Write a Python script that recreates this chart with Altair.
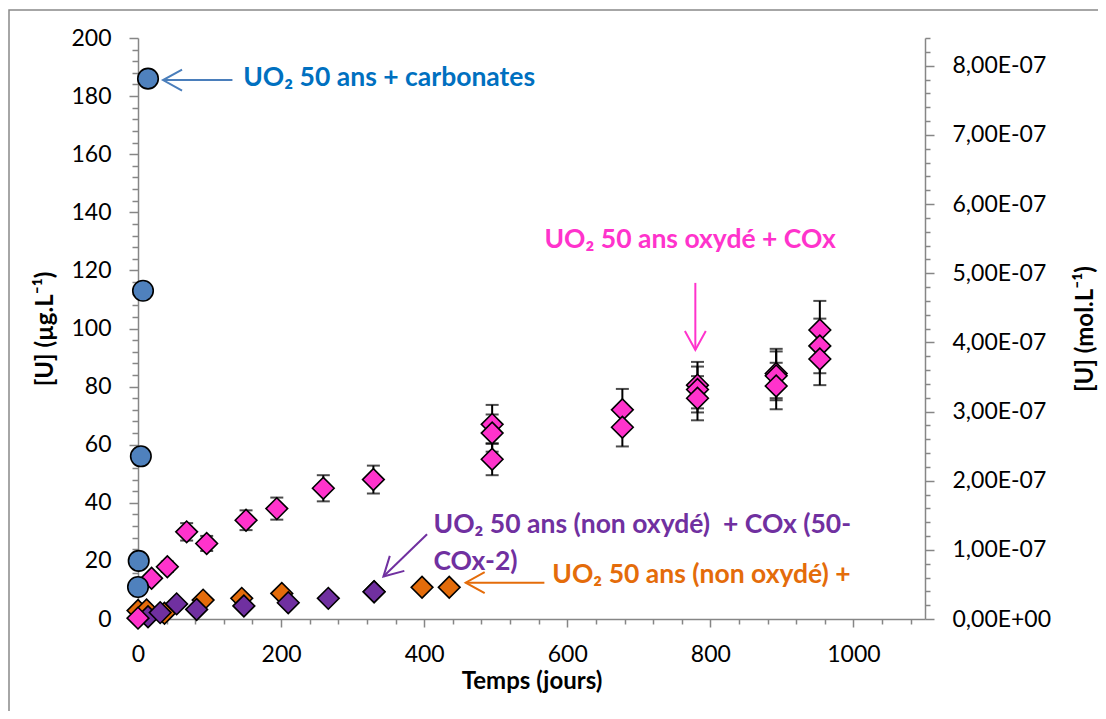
import altair as alt
import pandas as pd

# ---------------- data ----------------
# UO2 50 ans + carbonates (blue circles)
blue_t = [0, 1, 4, 7, 14]
blue_u = [11, 20, 56, 113, 186]

# UO2 50 ans oxydé + COx (pink diamonds, with error bars)
pink_t = [0, 19, 41, 68, 96, 151, 194, 259, 329, 495, 495, 495, 677, 677,
          782, 782, 782, 892, 892, 892, 953, 953, 953]
pink_u = [0.3, 14, 18, 30, 26, 34, 38, 45, 48, 67, 64, 55, 72, 66,
          80.5, 79, 76, 84.5, 83.7, 80.2, 99.5, 94, 89.5]
pink_err = [0.03, 1.4, 1.8, 3.0, 2.6, 3.4, 3.8, 4.5, 4.8, 6.7, 6.4, 5.5, 7.2, 6.6,
            8.0, 7.9, 7.6, 8.5, 8.4, 8.0, 10.0, 9.4, 9.0]

# UO2 50 ans (non oxydé) + ... (orange diamonds)
orange_t = [0, 12, 37, 91, 145, 201, 330, 397, 435]
orange_u = [2.9, 3.1, 2.0, 6.5, 7.1, 8.8, 9.4, 10.9, 10.9]

# UO2 50 ans (non oxydé) + COx (50-COx-2) (purple diamonds)
purple_t = [14, 31, 54, 82, 148, 210, 266, 330]
purple_u = [0.8, 2.2, 5.2, 3.3, 4.5, 5.6, 7.1, 9.4]

# annotations
ann_text = ["UO₂ 50 ans + carbonates", "UO₂ 50 ans oxydé + COx",
            "UO₂ 50 ans (non oxydé)\u00a0 + COx (50-", "COx-2)", "UO₂ 50 ans (non oxydé) +"]
ann_t = [147, 568, 413, 413, 579]
ann_u = [183.6, 127.6, 29.5, 16.9, 12.3]
ann_color = ["#0070C0", "#FF33CC", "#7030A0", "#7030A0", "#E46C0A"]

arrow_t_from = [132, 779, 404, 568]
arrow_u_from = [185.5, 115.7, 29.2, 12.5]
arrow_t_to = [35, 779, 343, 458]
arrow_u_to = [185.5, 92.6, 14.6, 12.5]
arrow_angle = [180, 90, 136, 180]
arrow_color = ["#4A7EBB", "#FF33CC", "#7030A0", "#E46C0A"]

# axis ticks / labels
x_tick_values = list(range(0, 1081, 40))
x_label_values = [0, 200, 400, 600, 800, 1000]
y_tick_values = list(range(0, 201, 4))
y_label_values = [0, 20, 40, 60, 80, 100, 120, 140, 160, 180, 200]
y2_tick_values = [round(i * 2e-8, 12) for i in range(43)]
y2_labels = ["0,00E+00", "1,00E-07", "2,00E-07", "3,00E-07", "4,00E-07",
             "5,00E-07", "6,00E-07", "7,00E-07", "8,00E-07"]
y2_max = 8.402e-7

# ---------------- chart ----------------
W, H = 787, 581
FONT = "Lato"
GRAY = "#868686"

xscale = alt.Scale(domain=[0, 1100], nice=False, zero=False)
yscale = alt.Scale(domain=[0, 200], nice=False)

x_lbl = "[" + ",".join(str(v) for v in x_label_values) + "]"
y_lbl = "[" + ",".join(str(v) for v in y_label_values) + "]"

x_axis = alt.Axis(
    values=x_tick_values,
    labelExpr=f"indexof({x_lbl}, datum.value) >= 0 ? format(datum.value, 'd') : ''",
    tickSize={"condition": {"test": f"indexof({x_lbl}, datum.value) >= 0", "value": 8}, "value": 5},
    title="Temps (jours)", grid=False, labelOverlap=False, labelPadding=16,
    titleY=62, titleBaseline="middle", labelFlush=False)
y_axis = alt.Axis(
    values=y_tick_values,
    labelExpr=f"indexof({y_lbl}, datum.value) >= 0 ? format(datum.value, 'd') : ''",
    tickSize={"condition": {"test": f"indexof({y_lbl}, datum.value) >= 0", "value": 9}, "value": 6},
    title="[U] (µg.L⁻¹)", grid=False, labelOverlap=False, labelPadding=18,
    titleX=-93, titleY=H / 2, titleBaseline="middle", titleAngle=270, labelFlush=False)

X = alt.X("t:Q", scale=xscale, axis=x_axis)
Y = alt.Y("u:Q", scale=yscale, axis=y_axis)

blue_df = pd.DataFrame({"t": blue_t, "u": blue_u})
pink_df = pd.DataFrame({"t": pink_t, "u": pink_u, "err": pink_err})
orange_df = pd.DataFrame({"t": orange_t, "u": orange_u})
purple_df = pd.DataFrame({"t": purple_t, "u": purple_u})
ann_df = pd.DataFrame({"t": ann_t, "u": ann_u, "text": ann_text, "c": ann_color})
arr_df = pd.DataFrame({"t": arrow_t_from, "u": arrow_u_from, "t2": arrow_t_to,
                       "u2": arrow_u_to, "ang": arrow_angle, "c": arrow_color})

frame = alt.Chart(pd.DataFrame({"a": [0]})).mark_rect(
    fill=None, stroke="#898989", strokeWidth=1.5).encode(
    x=alt.value(-129), x2=alt.value(1300), y=alt.value(-28), y2=alt.value(900))

DSIZE = 470
orange = alt.Chart(orange_df).mark_point(
    shape="diamond", filled=True, fill="#E46C0A", stroke="black", strokeWidth=1.6,
    size=DSIZE, opacity=1).encode(x=X, y=Y)
purple = alt.Chart(purple_df).mark_point(
    shape="diamond", filled=True, fill="#7030A0", stroke="black", strokeWidth=1.6,
    size=DSIZE, opacity=1).encode(x=X, y=Y)

pink_base = alt.Chart(pink_df).transform_calculate(
    lo="datum.u - datum.err", hi="datum.u + datum.err")
pink_rule = pink_base.mark_rule(color="black", strokeWidth=2).encode(
    x=X, y=alt.Y("lo:Q", scale=yscale, axis=y_axis), y2="hi:Q")
pink_cap_lo = pink_base.mark_tick(color="black", orient="horizontal", size=13,
                                  thickness=2).encode(
    x=X, y=alt.Y("lo:Q", scale=yscale, axis=y_axis))
pink_cap_hi = pink_base.mark_tick(color="black", orient="horizontal", size=13,
                                  thickness=2).encode(
    x=X, y=alt.Y("hi:Q", scale=yscale, axis=y_axis))
pink = alt.Chart(pink_df).mark_point(
    shape="diamond", filled=True, fill="#FF33CC", stroke="black", strokeWidth=1.6,
    size=DSIZE, opacity=1).encode(x=X, y=Y)

blue = alt.Chart(blue_df).mark_point(
    shape="circle", filled=True, fill="#4F81BD", stroke="black", strokeWidth=1.6,
    size=420, opacity=1).encode(x=X, y=Y)

arrow_shaft = alt.Chart(arr_df).mark_rule(strokeWidth=2).encode(
    x=X, y=Y, x2="t2:Q", y2="u2:Q", color=alt.Color("c:N", scale=None))
arrow_head = alt.Chart(arr_df).mark_point(
    shape="M -1 -0.55 L 0 0 L -1 0.55", filled=False, strokeWidth=2, size=1444,
    opacity=1).encode(
    x=alt.X("t2:Q", scale=xscale, axis=x_axis), y=alt.Y("u2:Q", scale=yscale, axis=y_axis),
    angle=alt.Angle("ang:Q", scale=None), color=alt.Color("c:N", scale=None))

texts = alt.Chart(ann_df).mark_text(
    font=FONT, fontWeight="bold", fontSize=26.5, align="left", baseline="alphabetic").encode(
    x=X, y=Y, text="text:N", color=alt.Color("c:N", scale=None))

main = alt.layer(frame, orange, purple, pink_rule, pink_cap_lo, pink_cap_hi, pink,
                 blue, arrow_shaft, arrow_head, texts)

y2_expr = ("abs(datum.value*1e7 - round(datum.value*1e7)) < 1e-4 ? "
           + "[" + ",".join("'" + s + "'" for s in y2_labels) + "][round(datum.value*1e7)] : ''")
y2_test = "abs(datum.value*1e7 - round(datum.value*1e7)) < 1e-4"
right = alt.Chart(pd.DataFrame({"mol": [0, y2_max]})).mark_point(opacity=0).encode(
    y=alt.Y("mol:Q", scale=alt.Scale(domain=[0, y2_max], nice=False),
            axis=alt.Axis(orient="right", values=y2_tick_values, labelExpr=y2_expr,
                          tickSize={"condition": {"test": y2_test, "value": 9}, "value": 5},
                          title="[U] (mol.L⁻¹)", grid=False, labelOverlap=False,
                          labelPadding=18, titleX=160, titleY=H / 2, titleAngle=270,
                          titleBaseline="middle", labelFlush=False)))

chart = alt.layer(main, right).resolve_scale(y="independent").properties(
    width=W, height=H,
    autosize=alt.AutoSizeParams(type="none"),
    padding={"left": 130, "top": 30, "right": 173, "bottom": 92},
).configure_view(stroke=None).configure_axis(
    labelFont=FONT, labelFontSize=23, labelColor="black",
    titleFont=FONT, titleFontSize=24, titleFontWeight="bold", titleColor="black",
    domainColor=GRAY, domainWidth=1.5, tickColor=GRAY, tickWidth=1.5,
)

chart.save("out.html", embed_options={"renderer": "svg", "actions": False})
